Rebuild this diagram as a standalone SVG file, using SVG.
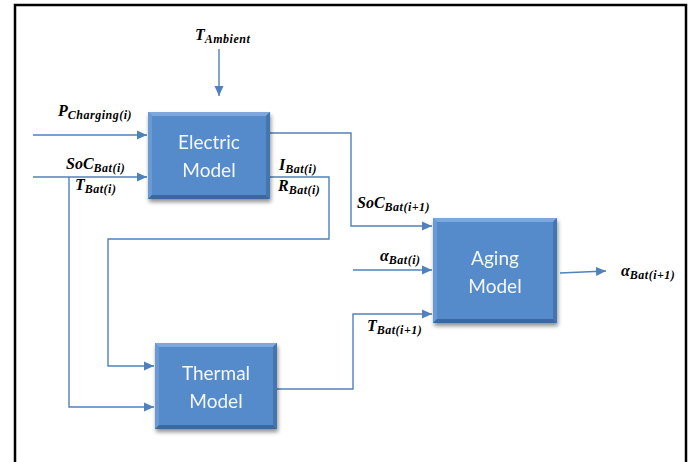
<svg xmlns="http://www.w3.org/2000/svg" width="697" height="462" viewBox="0 0 697 462">
<style>
.frame{fill:none;stroke:#000;stroke-width:2.5}
.conn{fill:none;stroke:#4F81BD;stroke-width:1.4}
.bx{fill:#558ACB}
.bt{fill:#7EA8DC}
.bl{fill:#6A9AD4}
.br{fill:#4474AE}
.bb{fill:#3C689F}
.lbl{font-family:Lato,"Open Sans",sans-serif;font-size:19px;fill:#F4F8FC;text-anchor:middle}
.m{font-family:"Liberation Serif",serif;font-weight:bold;font-style:italic;font-size:16px;fill:#000}
.s{font-size:12px;letter-spacing:0.5px}
</style>
<defs>
<marker id="ah" viewBox="0 0 10 10" refX="10" refY="5" markerWidth="10" markerHeight="10" markerUnits="userSpaceOnUse" orient="auto">
<path d="M0,0.5 L10,5 L0,9.5 Z" fill="#4F81BD"/>
</marker>
<filter id="sh" x="-10%" y="-10%" width="130%" height="130%">
<feGaussianBlur in="SourceAlpha" stdDeviation="2"/>
<feOffset dx="1" dy="3"/>
<feComponentTransfer><feFuncA type="linear" slope="0.45"/></feComponentTransfer>
<feMerge><feMergeNode/><feMergeNode in="SourceGraphic"/></feMerge>
</filter>
</defs>
<path class="frame" d="M15,462 V5 H686 V462"/>
<g id="connectors">
<path class="conn" d="M219,49 V96" marker-end="url(#ah)"/>
<path class="conn" d="M33,135 H147" marker-end="url(#ah)"/>
<path class="conn" d="M33,177 H147" marker-end="url(#ah)"/>
<path class="conn" d="M69,177 V407 H154" marker-end="url(#ah)"/>
<path class="conn" d="M270,133 H351 V226 H432" marker-end="url(#ah)"/>
<path class="conn" d="M270,177 H329 V239 H108 V366 H154" marker-end="url(#ah)"/>
<path class="conn" d="M353,270 H432" marker-end="url(#ah)"/>
<path class="conn" d="M277,389 H353 V314 H432" marker-end="url(#ah)"/>
<path class="conn" d="M560,273 L606,271" marker-end="url(#ah)"/>
</g>
<g id="electric" filter="url(#sh)">
<rect class="bx" x="148" y="112" width="122" height="87"/>
<polygon class="bt" points="148,112 270,112 266,116 152,116"/>
<polygon class="bl" points="148,112 152,116 152,195 148,199"/>
<polygon class="br" points="270,112 270,199 266,195 266,116"/>
<polygon class="bb" points="148,199 270,199 266,195 152,195"/>
<text class="lbl" x="209" y="149">Electric</text>
<text class="lbl" x="209" y="177">Model</text>
</g>
<g id="thermal" filter="url(#sh)">
<rect class="bx" x="155" y="343" width="122" height="86"/>
<polygon class="bt" points="155,343 277,343 273,347 159,347"/>
<polygon class="bl" points="155,343 159,347 159,425 155,429"/>
<polygon class="br" points="277,343 277,429 273,425 273,347"/>
<polygon class="bb" points="155,429 277,429 273,425 159,425"/>
<text class="lbl" x="216" y="380">Thermal</text>
<text class="lbl" x="216" y="408">Model</text>
</g>
<g id="aging" filter="url(#sh)">
<rect class="bx" x="433" y="218" width="124" height="105"/>
<polygon class="bt" points="433,218 557,218 553,222 437,222"/>
<polygon class="bl" points="433,218 437,222 437,319 433,323"/>
<polygon class="br" points="557,218 557,323 553,319 553,222"/>
<polygon class="bb" points="433,323 557,323 553,319 437,319"/>
<text class="lbl" x="495" y="265">Aging</text>
<text class="lbl" x="495" y="293">Model</text>
</g>
<g id="labels">
<text class="m" x="195" y="40">T<tspan class="s" dy="3">Ambient</tspan></text>
<text class="m" x="58" y="116">P<tspan class="s" dy="3">Charging(i)</tspan></text>
<text class="m" x="66" y="169">SoC<tspan class="s" dy="3">Bat(i)</tspan></text>
<text class="m" x="75" y="190">T<tspan class="s" dy="3">Bat(i)</tspan></text>
<text class="m" x="279" y="170">I<tspan class="s" dy="3">Bat(i)</tspan></text>
<text class="m" x="278" y="191">R<tspan class="s" dy="3">Bat(i)</tspan></text>
<text class="m" x="357" y="208">SoC<tspan class="s" dy="3">Bat(i+1)</tspan></text>
<text class="m" x="380" y="261">α<tspan class="s" dy="3">Bat(i)</tspan></text>
<text class="m" x="367" y="331">T<tspan class="s" dy="3">Bat(i+1)</tspan></text>
<text class="m" x="621" y="276">α<tspan class="s" dy="3">Bat(i+1)</tspan></text>
</g>
</svg>
